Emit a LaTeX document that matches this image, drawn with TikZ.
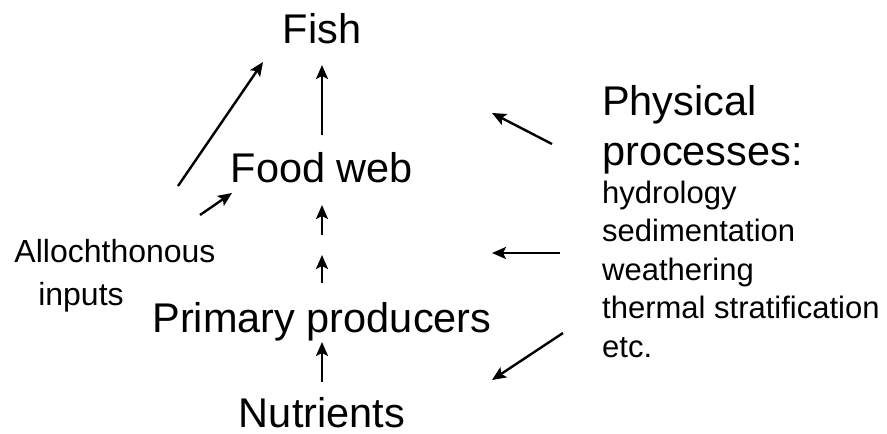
\documentclass[tikz,border=0pt]{standalone}
\usepackage{fontspec}
\setmainfont{Liberation Sans}
\usetikzlibrary{arrows.meta,calc}

\tikzset{
  big/.style={font=\fontsize{41.5}{48}\selectfont, inner sep=0pt, anchor=base},
  small/.style={font=\fontsize{31}{36}\selectfont, inner sep=0pt, anchor=base west},
  arr/.style={-{Stealth[length=14pt,width=12pt,inset=3pt]}, line width=2.4pt},
}

\begin{document}
\begin{tikzpicture}[x=1pt,y=-1pt]
\useasboundingbox (0,0) rectangle (887,434);
% main chain
\node[big] (fish) at (322,43) {Fish};
\node[big] (foodweb) at (322,182) {Food web};
\node[big] (primary) at (322,332) {Primary producers};
\node[big] (nutrients) at (322,427) {Nutrients};
% outside inputs
\node[small, anchor=base, font=\fontsize{32}{36}\selectfont] (alloch) at (115,262) {Allochthonous};
\node[small, anchor=base, font=\fontsize{32}{36}\selectfont] (inputs) at (81,305) {inputs};
% physical processes
\node[big, anchor=base west] (physical) at (602,115) {Physical};
\node[big, anchor=base west] (processes) at (602,165) {processes:};
\foreach \txt [count=\i] in {hydrology, sedimentation, weathering, thermal stratification, etc.}
  \node[small] (proc\i) at (602,{165+38.4*\i}) {\txt};
% bottom-up arrows
\draw[arr] ([yshift=47pt]foodweb.base) -- ([yshift=-22pt]fish.base);
\draw[arr] ([yshift=-53pt]foodweb.base) -- ([yshift=-23pt]foodweb.base);
\draw[arr] ([yshift=49pt]primary.base) -- ([yshift=77pt]primary.base);
\draw[arr] ([yshift=45pt]nutrients.base) -- ([yshift=-10pt]primary.base);
% allochthonous arrows
\coordinate (al-long) at (178,186);
\coordinate (al-fish) at (263,62);
\coordinate (al-short) at (200,215);
\coordinate (al-web) at (232,193);
\draw[arr] (al-long) -- (al-fish);
\draw[arr] (al-short) -- (al-web);
% physical arrows
\coordinate (ph-a) at (552,144);
\coordinate (ph-b) at (560,253);
\coordinate (ph-c) at (563,333);
\draw[arr] (ph-a) -- (492,113);
\draw[arr] (ph-b) -- (492,253);
\draw[arr] (ph-c) -- (492,380);
\end{tikzpicture}
\end{document}
